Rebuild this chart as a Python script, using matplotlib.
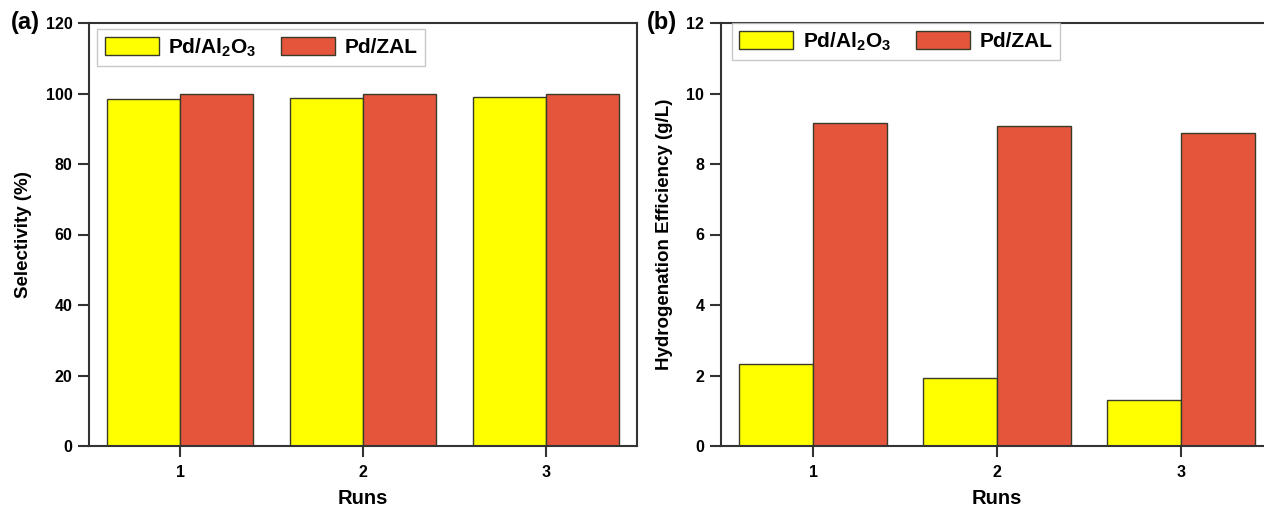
import matplotlib
matplotlib.use("Agg")
import matplotlib.pyplot as plt
import numpy as np

runs = [1, 2, 3]
run_labels = ["1", "2", "3"]
series_names = [r"Pd/Al$_2$O$_3$", "Pd/ZAL"]
selectivity_al2o3 = [98.5, 98.6, 99.1]
selectivity_zal = [100.0, 100.0, 100.0]
efficiency_al2o3 = [2.32, 1.94, 1.31]
efficiency_zal = [9.15, 9.07, 8.88]

YELLOW = "#FFFF00"
RED = "#E4553B"
EDGE = "#3a3a2a"

plt.rcParams.update(
    {
        "font.family": "Liberation Sans",
        "font.weight": "bold",
        "mathtext.fontset": "custom",
        "mathtext.rm": "Liberation Sans:bold",
        "mathtext.bf": "Liberation Sans:bold",
        "mathtext.it": "Liberation Sans:bold",
        "mathtext.default": "bf",
        "axes.edgecolor": "#333333",
        "axes.linewidth": 1.5,
    }
)

fig = plt.figure(figsize=(12.64, 5.09), dpi=100)
ax_a = fig.add_axes([89 / 1264, 1 - 446 / 509, 548 / 1264, 423 / 509])
ax_b = fig.add_axes([721 / 1264, 1 - 446 / 509, 552 / 1264, 423 / 509])

x = np.array(runs, dtype=float)
w = 0.4


def draw(ax, yellow, red, ylim, yticks, ylabel, tag, tag_x, legend_anchor):
    ax.bar(x - w / 2, yellow, width=w, color=YELLOW, edgecolor=EDGE, linewidth=1.0,
           label=series_names[0])
    ax.bar(x + w / 2, red, width=w, color=RED, edgecolor=EDGE, linewidth=1.0,
           label=series_names[1])
    ax.set_xlim(0.5, 3.5)
    ax.set_ylim(*ylim)
    ax.set_yticks(yticks)
    ax.set_xticks(x)
    ax.set_xticklabels(run_labels)
    ax.tick_params(axis="both", direction="out", length=8, width=1.5, color="#333333",
                   labelsize=11.5)
    ax.tick_params(axis="x", pad=6)
    ax.tick_params(axis="y", pad=4)
    for lab in ax.get_xticklabels() + ax.get_yticklabels():
        lab.set_fontweight("bold")
    ax.set_xlabel("Runs", fontsize=14.5, fontweight="bold", labelpad=6)
    ax.set_ylabel(ylabel, fontsize=13.5, fontweight="bold", labelpad=10)
    leg = ax.legend(loc="upper left", bbox_to_anchor=legend_anchor, ncol=2,
                    fontsize=15, frameon=True, fancybox=False, edgecolor="#bbbbbb",
                    handlelength=2.6, handleheight=0.95, columnspacing=1.2,
                    handletextpad=0.45, borderpad=0.35, borderaxespad=0.0)
    leg.get_frame().set_linewidth(1.0)
    for t in leg.get_texts():
        t.set_fontweight("bold")
    ax.text(tag_x, 1.0, tag, transform=ax.transAxes, fontsize=17, fontweight="bold",
            ha="left", va="center")


draw(ax_a, selectivity_al2o3, selectivity_zal, (0, 120), np.arange(0, 121, 20),
     "Selectivity (%)", "(a)", -0.142, (0.015, 0.986))
draw(ax_b, efficiency_al2o3, efficiency_zal, (0, 12), np.arange(0, 13, 2),
     "Hydrogenation Efficiency (g/L)", "(b)", -0.134, (0.02, 1.0))

fig.savefig("out.png", dpi=100)
